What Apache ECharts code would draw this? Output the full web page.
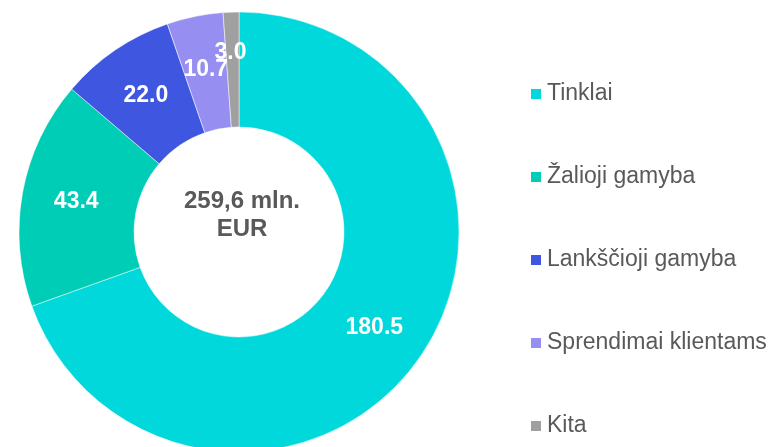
<!DOCTYPE html>
<html>
<head>
<meta charset="utf-8">
<script src="https://cdn.jsdelivr.net/npm/echarts@6/dist/echarts.min.js"></script>
<style>
  html, body { margin: 0; padding: 0; background: #fff; }
  #main { width: 778px; height: 447px; }
</style>
</head>
<body>
<div id="main"></div>
<script>
var categories = ['Tinklai', 'Žalioji gamyba', 'Lankščioji gamyba', 'Sprendimai klientams', 'Kita'];
var values = [180.5, 43.4, 22.0, 10.7, 3.0];
var colors = ['#00d8dc', '#00cdb5', '#3f57e0', '#968ef0', '#a0a0a0'];
var centerText = '259,6 mln.\nEUR';

var pieData = categories.map(function(name, i) {
  var item = { name: name, value: values[i] };
  if (name === 'Kita') {
    // slice too thin for an inside label,
    // so put it "outside" with a negative line length to pull it back in
    item.label = { position: 'outside' };
    item.labelLine = { show: false, length: -41, length2: -19 };
  }
  return item;
});

var chart = echarts.init(document.getElementById('main'));
var option = {
  color: colors,
  animation: false,
  title: {
    text: centerText,
    left: 237,
    top: 182,
    textAlign: 'center',
    textStyle: {
      fontFamily: 'Liberation Sans',
      fontSize: 24,
      fontWeight: 'bold',
      color: '#595959',
      lineHeight: 28
    }
  },
  legend: {
    orient: 'vertical',
    left: 524,
    top: 76,
    itemWidth: 12,
    itemHeight: 12,
    itemGap: 57,
    icon: 'rect',
    data: categories,
    textStyle: {
      fontFamily: 'Liberation Sans',
      fontSize: 23,
      lineHeight: 26,
      color: '#595959',
      padding: [0, 0, 0, 0]
    }
  },
  series: [
    {
      type: 'pie',
      center: [239, 232],
      radius: [105, 220],
      startAngle: 90,
      clockwise: true,
      avoidLabelOverlap: false,
      minShowLabelAngle: 0,
      labelLayout: { hideOverlap: false },
      itemStyle: {
        borderColor: '#fff',
        borderWidth: 0.5
      },
      label: {
        show: true,
        position: 'inside',
        color: '#fff',
        fontFamily: 'Liberation Sans',
        fontSize: 23,
        fontWeight: 'bold',
        formatter: function(params) {
          return params.value.toFixed(1);
        }
      },
      labelLine: { show: false },
      emphasis: { disabled: true },
      data: pieData
    }
  ]
};
chart.setOption(option);
</script>
</body>
</html>
